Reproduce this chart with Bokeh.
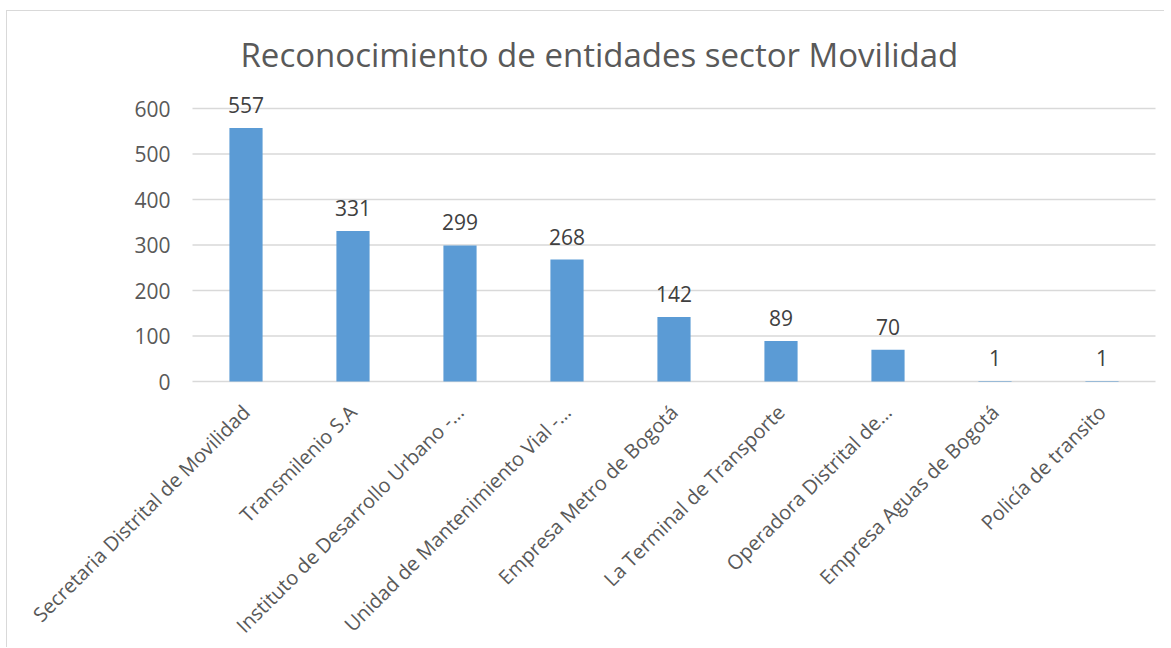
import math
import numpy as np
from bokeh.plotting import figure
from bokeh.models import ColumnDataSource, LabelSet, Range1d
from bokeh.core.properties import value
from bokeh.embed import file_html
from bokeh.resources import INLINE

categories = [
    "Secretaria Distrital de Movilidad",
    "Transmilenio S.A",
    "Instituto de Desarrollo Urbano -…",
    "Unidad de Mantenimiento Vial -…",
    "Empresa Metro de Bogotá",
    "La Terminal de Transporte",
    "Operadora Distrital de…",
    "Empresa Aguas de Bogotá",
    "Policía de transito",
]
values = [557, 331, 299, 268, 142, 89, 70, 1, 1]
y_ticks = [0, 100, 200, 300, 400, 500, 600]
title_text = "Reconocimiento de entidades sector Movilidad"

FONT = "Open Sans"
GRAY = "#595959"

# layout (pixels, relative to the figure, which sits 7px right / 11px down)
OFFX, OFFY = 7, 11
W, H = 1171 - OFFX - 6, 648 - OFFY
TOP = 81 - OFFY                             # frame top (title sits above)
AREA_L, AREA_R = 192 - OFFX, 1155 - OFFX    # plot area holding the categories
ZERO_PX, SIX_PX = 381 - OFFY, 108 - OFFY    # pixel rows of 0 and 600
n = len(categories)
band = (AREA_R - AREA_L) / n
px_per_unit = (ZERO_PX - SIX_PX) / 600.0

x_start = -(AREA_L + band / 2) / band
x_end = (W - AREA_L - band / 2) / band
y_end = (ZERO_PX - TOP) / px_per_unit
y_start = -(H - ZERO_PX) / px_per_unit

xs = np.arange(n)
src = ColumnDataSource(dict(x=xs, cat=categories, val=values,
                            lbl=[str(v) for v in values], zero=[0] * n))
ticks_src = ColumnDataSource(dict(
    y=y_ticks, lbl=[str(t) for t in y_ticks],
    x0=[-0.5] * len(y_ticks), x1=[n - 0.5] * len(y_ticks)))

p = figure(x_range=Range1d(x_start, x_end), y_range=Range1d(y_start, y_end),
           width=W, height=H, output_backend="svg", toolbar_location=None,
           title=title_text, min_border_left=0, min_border_right=0,
           min_border_top=TOP, min_border_bottom=0)
p.outline_line_color = None
p.xaxis.visible = False
p.yaxis.visible = False
p.xgrid.visible = False
p.ygrid.visible = False
p.styles = {"border-left": "1px solid #D9D9D9", "border-top": "1px solid #D9D9D9",
            "margin-left": "6px", "margin-top": "10px"}

p.title.align = "left"
p.title.offset = 240 - OFFX
p.title.text_font = FONT
p.title.text_font_size = "33px"
p.title.text_font_style = "normal"
p.title.text_color = GRAY
p.title.standoff = 10

# gridlines (value axis)
p.segment(x0="x0", x1="x1", y0="y", y1="y", source=ticks_src,
          line_color="#D9D9D9", line_width=1.5)
# value tick labels
p.text(x="x0", y="y", text="lbl", source=ticks_src, x_offset=-22,
       text_align="right", text_baseline="middle",
       text_font=value(FONT), text_font_size="21px", text_color=GRAY)

p.vbar(x="x", top="val", width=0.31, source=src, fill_color="#5B9BD5", line_color=None)

labels = LabelSet(x="x", y="val", text="lbl", source=src, text_align="center",
                  text_baseline="bottom", y_offset=15, text_font=value(FONT),
                  text_font_size="21px", text_color="#404040")
p.add_layout(labels)

# category labels under the axis, rotated 45 degrees
p.text(x="x", y="zero", text="cat", source=src, angle=math.pi / 4,
       text_align="right", text_baseline="middle", y_offset=27,
       text_font=value(FONT), text_font_size="20px", text_color=GRAY)

open("out.html", "w").write(file_html(p, INLINE))
